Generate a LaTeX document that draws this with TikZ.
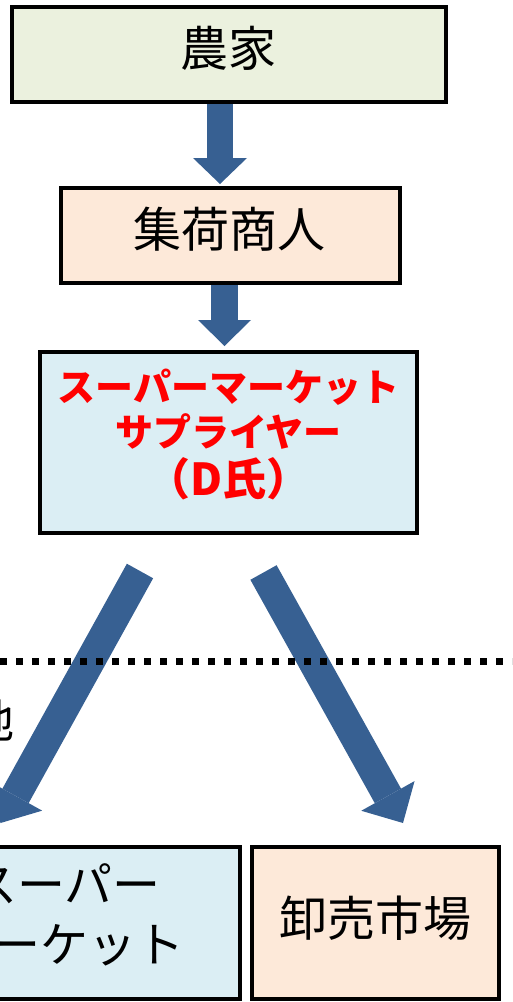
\documentclass[tikz,border=0pt]{standalone}
\usepackage{fontspec}
\setmainfont{Noto Sans CJK JP}
\usetikzlibrary{arrows.meta}
\definecolor{arrowblue}{HTML}{376092}
\definecolor{greenfill}{HTML}{EBF1DE}
\definecolor{peachfill}{HTML}{FDE9D9}
\definecolor{bluefill}{HTML}{DBEEF4}
\definecolor{redtext}{HTML}{FF0000}
\tikzset{
  box/.style={draw=black, line width=4pt, inner sep=0pt, outer sep=0pt},
  txt/.style={inner sep=0pt, outer sep=0pt, align=center, font=\fontsize{48}{60}\selectfont},
  redtxt/.style={inner sep=0pt, outer sep=0pt, text=redtext, font=\fontsize{38}{44}\selectfont\bfseries},
  blockarrow/.style={draw=arrowblue, line cap=butt},
  dots/.style={draw=black, line width=7.5pt, dash pattern=on 7.3pt off 8.7pt}
}
\begin{document}
\begin{tikzpicture}[x=1pt,y=-1pt]
\useasboundingbox (0,0) rectangle (512,1002);
\clip (0,0) rectangle (512,1002);
% boxes
\node[box, fill=greenfill, minimum width=434pt, minimum height=95pt] (b1) at (229,54.5) {};
\node[box, fill=peachfill, minimum width=339pt, minimum height=95pt] (b2) at (230.5,235.5) {};
\node[box, fill=bluefill, minimum width=377pt, minimum height=181pt] (b3) at (228.5,442.5) {};
\node[box, fill=bluefill, minimum width=350pt, minimum height=152pt] (b5) at (65,923) {};
\node[box, fill=peachfill, minimum width=247pt, minimum height=152pt] (b4) at (375.5,923) {};
% texts
\node[txt] (t1) at (228.5,48) {農家};
\node[txt] (t2) at (229,229) {集荷商人};
\node[redtxt] (r1) at (228.5,387.5) {スーパーマーケット};
\node[redtxt] (r2) at (228.5,431) {サプライヤー};
\node[redtxt, font=\fontsize{44}{50}\selectfont\bfseries] (r3) at (228.5,479) {（D氏）};
\node[txt] (t4) at (375.5,918.5) {卸売市場};
\node[txt] (t5) at (65,915) {スーパー\\マーケット};
\node[txt, font=\fontsize{46}{56}\selectfont] (t6) at (-8,720) {地};
% vertical arrows
\draw[blockarrow, line width=26pt, -{Triangle[width=54pt,length=26pt,line width=0pt]}]
  ([xshift=-9pt,yshift=-2pt]b1.south) -- ([xshift=-10.5pt,yshift=4pt]b2.north);
\draw[blockarrow, line width=27pt, -{Triangle[width=53pt,length=26pt,line width=0pt]}]
  ([xshift=-6pt,yshift=-2pt]b2.south) -- ([xshift=-4pt,yshift=6pt]b3.north);
% diagonal arrows
\coordinate (la0) at (140,571);
\coordinate (la1) at (0.5,823);
\coordinate (ra0) at (263.5,572.5);
\coordinate (ra1) at (403,823);
\draw[blockarrow, line width=30pt, -{Triangle[width=61pt,length=31pt,line width=0pt]}] (la0) -- (la1);
\draw[blockarrow, line width=30pt, -{Triangle[width=61pt,length=31pt,line width=0pt]}] (ra0) -- (ra1);
% dotted line
\coordinate (dl) at (0,661.5);
\coordinate (dr) at (515,661.5);
\draw[dots] (dl) -- (dr);
\end{tikzpicture}
\end{document}
